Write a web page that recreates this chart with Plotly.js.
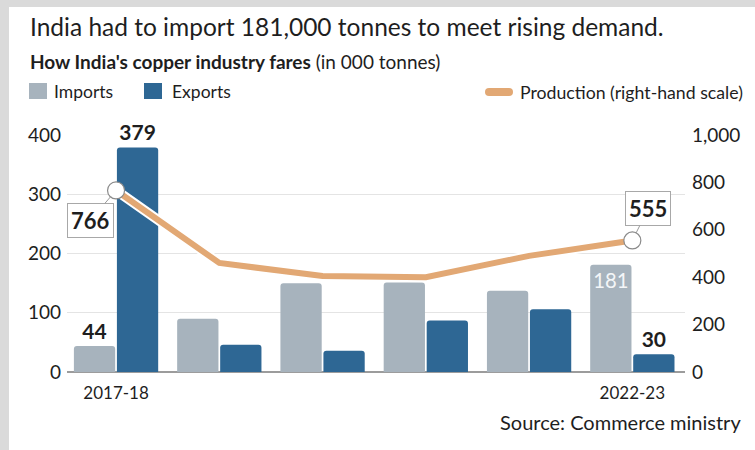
<!DOCTYPE html>
<html>
<head>
<meta charset="utf-8">
<script src="https://cdn.plot.ly/plotly-3.0.1.min.js"></script>
<style>
html,body{margin:0;padding:0;background:#ffffff;}
#chart{width:755px;height:450px;}
</style>
</head>
<body>
<div id="chart"></div>
<script>
// ---- data (in 000 tonnes) ----
var years = ['2017-18', '2018-19', '2019-20', '2020-21', '2021-22', '2022-23'];
var imports = [44, 90, 150, 151, 137, 181];
var exports = [379, 46, 36, 87, 106, 30];
var production = [766, 460, 405, 400, 490, 555];
var tickLabels = ['2017-18', '2022-23'];

// ---- geometry helpers (pixels -> paper) ----
var L = 67, R = 685, T = 135, B = 372;
var W = R - L, H = B - T;
function px(x) { return (x - L) / W; }
function py(y) { return (B - y) / H; }

var FONT = 'Lato, "Open Sans", sans-serif';
var cImp = '#a7b3bd', cExp = '#2e6794', cProd = '#e2a874', cText = '#1e1e1e';

var last = years.length - 1;

var impText = imports.map(function (v, i) { return (i === 0 || i === last) ? String(v) : ''; });
var expText = exports.map(function (v, i) { return (i === 0 || i === last) ? String(v) : ''; });
var impPos = imports.map(function (v, i) { return i === last ? 'inside' : 'outside'; });

var traces = [
  {
    type: 'bar', name: 'Imports', x: years, y: imports,
    marker: { color: cImp, cornerradius: 3 },
    text: impText, textposition: impPos, insidetextanchor: 'end',
    outsidetextfont: { family: FONT, size: 21, color: cText, weight: 'bold' },
    insidetextfont: { family: FONT, size: 21, color: '#f4f6f8', weight: 'normal' },
    textangle: 0, cliponaxis: false, hoverinfo: 'none'
  },
  {
    type: 'bar', name: 'Exports', x: years, y: exports,
    marker: { color: cExp, cornerradius: 3 },
    text: expText, textposition: 'outside',
    outsidetextfont: { family: FONT, size: 21, color: cText, weight: 'bold' },
    textangle: 0, cliponaxis: false, hoverinfo: 'none'
  },
  {
    type: 'scatter', mode: 'lines', x: years, y: production, yaxis: 'y2',
    line: { color: '#ffffff', width: 10 }, hoverinfo: 'none', cliponaxis: false
  },
  {
    type: 'scatter', mode: 'lines', name: 'Production', x: years, y: production, yaxis: 'y2',
    line: { color: cProd, width: 6 }, hoverinfo: 'none', cliponaxis: false
  },
  {
    type: 'scatter', mode: 'markers', x: [years[0], years[last]], y: [production[0], production[last]], yaxis: 'y2',
    marker: { size: 17, color: '#ffffff', line: { color: '#8a8a8a', width: 1.2 } },
    hoverinfo: 'none', cliponaxis: false
  }
];

var shapes = [
  // grey frame strips (left and top)
  { type: 'rect', xref: 'paper', yref: 'paper', x0: px(0), x1: px(9), y0: py(450), y1: py(0), fillcolor: '#dadada', line: { width: 0 }, layer: 'below' },
  { type: 'rect', xref: 'paper', yref: 'paper', x0: px(0), x1: px(755), y0: py(7), y1: py(0), fillcolor: '#dadada', line: { width: 0 }, layer: 'below' },
  // legend swatches
  { type: 'rect', xref: 'paper', yref: 'paper', x0: px(29), x1: px(47), y0: py(99), y1: py(83), fillcolor: cImp, line: { width: 0 } },
  { type: 'rect', xref: 'paper', yref: 'paper', x0: px(144), x1: px(162), y0: py(99), y1: py(83), fillcolor: cExp, line: { width: 0 } },
  { type: 'line', xref: 'paper', yref: 'paper', x0: px(489), x1: px(509), y0: py(92), y1: py(92), line: { color: cProd, width: 8 } },
  { type: 'circle', xref: 'paper', yref: 'paper', x0: px(485), x1: px(493), y0: py(96), y1: py(88), fillcolor: cProd, line: { width: 0 } },
  { type: 'circle', xref: 'paper', yref: 'paper', x0: px(505), x1: px(513), y0: py(96), y1: py(88), fillcolor: cProd, line: { width: 0 } }
];

var annotations = [
  { xref: 'paper', yref: 'paper', x: px(28), y: py(26), xanchor: 'left', yanchor: 'middle', showarrow: false,
    text: 'India had to import 181,000 tonnes to meet rising demand.', font: { family: FONT, size: 24.5, color: cText } },
  { xref: 'paper', yref: 'paper', x: px(28), y: py(61), xanchor: 'left', yanchor: 'middle', showarrow: false,
    text: "<b>How India's copper industry fares</b> (in 000 tonnes)", font: { family: FONT, size: 19, color: cText } },
  { xref: 'paper', yref: 'paper', x: px(52), y: py(91), xanchor: 'left', yanchor: 'middle', showarrow: false,
    text: 'Imports', font: { family: FONT, size: 17.5, color: cText } },
  { xref: 'paper', yref: 'paper', x: px(170), y: py(91), xanchor: 'left', yanchor: 'middle', showarrow: false,
    text: 'Exports', font: { family: FONT, size: 17.5, color: cText } },
  { xref: 'paper', yref: 'paper', x: px(518), y: py(92), xanchor: 'left', yanchor: 'middle', showarrow: false,
    text: 'Production (right-hand scale)', font: { family: FONT, size: 17.7, color: cText } },
  { xref: 'paper', yref: 'paper', x: px(743), y: py(422), xanchor: 'right', yanchor: 'middle', showarrow: false,
    text: 'Source: Commerce ministry', font: { family: FONT, size: 20, color: cText } },
  // callouts for production
  { x: years[0], y: production[0], xref: 'x', yref: 'y2', text: '<b>' + production[0] + '</b>',
    showarrow: true, arrowhead: 0, arrowwidth: 1, arrowcolor: '#9a9a9a', ax: -26, ay: 30, standoff: 8,
    bgcolor: '#ffffff', bordercolor: '#a8a8a8', borderwidth: 1, borderpad: 3,
    font: { family: FONT, size: 22, color: cText } },
  { x: years[last], y: production[last], xref: 'x', yref: 'y2', text: '<b>' + production[last] + '</b>',
    showarrow: true, arrowhead: 0, arrowwidth: 1, arrowcolor: '#9a9a9a', ax: 16, ay: -32, standoff: 8,
    bgcolor: '#ffffff', bordercolor: '#a8a8a8', borderwidth: 1, borderpad: 3,
    font: { family: FONT, size: 22, color: cText } }
];

var layout = {
  width: 755, height: 450,
  margin: { l: L, r: 755 - R, t: T, b: 450 - B, pad: 0 },
  paper_bgcolor: '#ffffff', plot_bgcolor: 'rgba(0,0,0,0)',
  showlegend: false,
  barmode: 'group', bargap: 0.167, bargroupgap: 0.04,
  font: { family: FONT, color: cText },
  xaxis: {
    type: 'category', range: [-0.475, 5.51],
    tickmode: 'array', tickvals: [years[0], years[last]], ticktext: tickLabels,
    showgrid: false, ticks: '', showline: false, zeroline: false, ticklabelstandoff: 9,
    tickfont: { family: FONT, size: 17, color: cText }, fixedrange: true
  },
  yaxis: {
    range: [0, 400], tickvals: [0, 100, 200, 300, 400],
    showgrid: true, gridcolor: '#e4e4e4', gridwidth: 1,
    zeroline: true, zerolinecolor: '#9c9c9c', zerolinewidth: 1.2,
    ticks: '', ticklabelstandoff: 5, showline: false,
    tickfont: { family: FONT, size: 19, color: cText }, fixedrange: true
  },
  yaxis2: {
    range: [0, 1000], tickvals: [0, 200, 400, 600, 800, 1000], tickformat: ',',
    overlaying: 'y', side: 'right', showgrid: false, zeroline: false, showline: false,
    ticks: '', ticklabelstandoff: 6,
    tickfont: { family: FONT, size: 19, color: cText }, fixedrange: true
  },
  shapes: shapes,
  annotations: annotations
};

Plotly.newPlot('chart', traces, layout, { displayModeBar: false, staticPlot: true });
</script>
</body>
</html>
